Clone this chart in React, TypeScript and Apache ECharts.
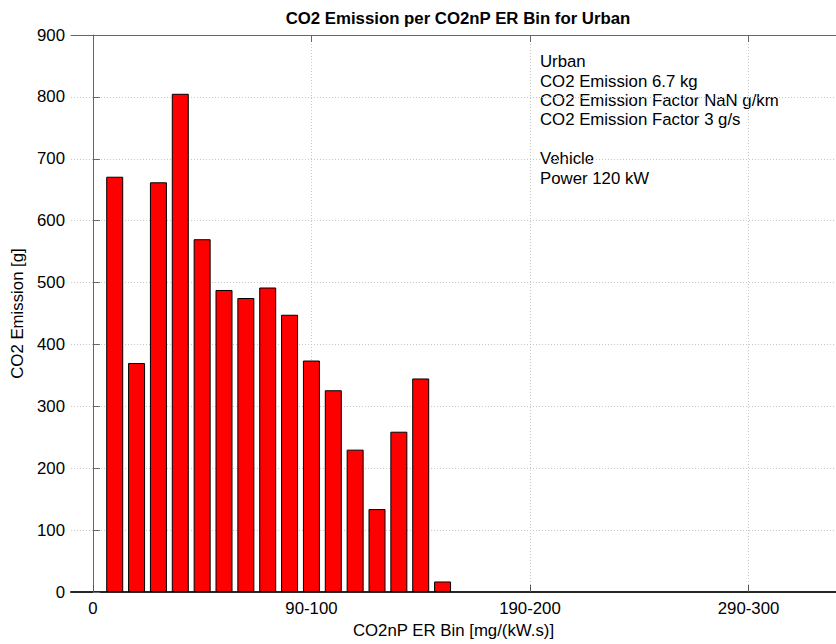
import React, { useEffect, useRef } from "react";
import * as echarts from "echarts";

const binPositions = [1, 2, 3, 4, 5, 6, 7, 8, 9, 10, 11, 12, 13, 14, 15, 16];
const co2Values = [671, 370, 662, 805, 570, 488, 475, 492, 448, 374, 326, 230, 134, 259, 345, 17];
const xTickValues = [0, 10, 20, 30];
const xTickLabels = ["0", "90-100", "190-200", "290-300"];
const infoLines = [
  "Urban",
  "CO2 Emission 6.7 kg",
  "CO2 Emission Factor NaN g/km",
  "CO2 Emission Factor 3 g/s",
  "",
  "Vehicle",
  "Power 120 kW",
];

const FONT = "'Liberation Sans', Arial, Helvetica, sans-serif";
const FS = 16.8;

export default function App() {
  const ref = useRef<HTMLDivElement>(null);
  useEffect(() => {
    if (!ref.current) return;
    const chart = echarts.init(ref.current, null, { renderer: "svg" });
    const gridLine = { show: true, lineStyle: { color: "#c8c8c8", type: [1, 2], width: 1 } };
    chart.setOption({
      animation: false,
      backgroundColor: "#ffffff",
      title: {
        text: "CO2 Emission per CO2nP ER Bin for Urban",
        left: 453,
        top: 5,
        textAlign: "center",
        textStyle: { fontFamily: FONT, fontSize: FS, fontWeight: "bold", color: "#000" },
      },
      grid: { left: 71, right: -4, top: 35, bottom: 52, containLabel: false },
      xAxis: [
        {
          type: "value",
          position: "bottom",
          min: -1,
          max: 34,
          name: "CO2nP ER Bin [mg/(kW.s)]",
          nameLocation: "middle",
          nameGap: 26,
          nameTextStyle: { fontFamily: FONT, fontSize: FS, color: "#000" },
          axisLine: { show: true, lineStyle: { color: "#262626", width: 2 } },
          axisTick: { show: true, inside: true, length: 7, customValues: xTickValues, lineStyle: { color: "#555" } },
          axisLabel: {
            show: true,
            customValues: xTickValues,
            margin: 8,
            fontFamily: FONT,
            fontSize: FS,
            color: "#000",
            formatter: (v: number) => {
              const i = xTickValues.indexOf(v);
              return i >= 0 ? xTickLabels[i] : "";
            },
          },
          splitLine: gridLine,
        },
        {
          type: "value",
          position: "top",
          min: -1,
          max: 34,
          axisLine: { show: true, lineStyle: { color: "#666", width: 1 } },
          axisTick: { show: true, inside: true, length: 7, customValues: xTickValues, lineStyle: { color: "#666" } },
          axisLabel: { show: false },
          splitLine: { show: false },
        },
      ],
      yAxis: {
        type: "value",
        min: 0,
        max: 900,
        interval: 100,
        name: "CO2 Emission [g]",
        nameLocation: "middle",
        nameGap: 38,
        nameRotate: 90,
        nameTextStyle: { fontFamily: FONT, fontSize: FS, color: "#000" },
        axisLine: { show: true, lineStyle: { color: "#666", width: 1 } },
        axisTick: { show: true, inside: true, length: 7, lineStyle: { color: "#666" } },
        axisLabel: { margin: 6, fontFamily: FONT, fontSize: FS, color: "#000" },
        splitLine: gridLine,
      },
      graphic: [
        {
          type: "text",
          x: 540,
          y: 52,
          style: {
            text: infoLines.join("\n"),
            fontFamily: FONT,
            fontSize: FS,
            lineHeight: 19.4,
            fill: "#000",
            verticalAlign: "top",
            align: "left",
          },
        },
      ],
      series: [
        {
          type: "bar",
          xAxisIndex: 0,
          yAxisIndex: 0,
          barWidth: 17,
          data: binPositions.map((x, i) => [x, co2Values[i]]),
          itemStyle: { color: "#ff0000", borderColor: "#000", borderWidth: 1 },
        },
      ],
    });
    return () => chart.dispose();
  }, []);
  return (
    <div
      ref={ref}
      style={{ position: "fixed", left: 0, top: 0, width: 836, height: 644, overflow: "hidden" }}
    />
  );
}
